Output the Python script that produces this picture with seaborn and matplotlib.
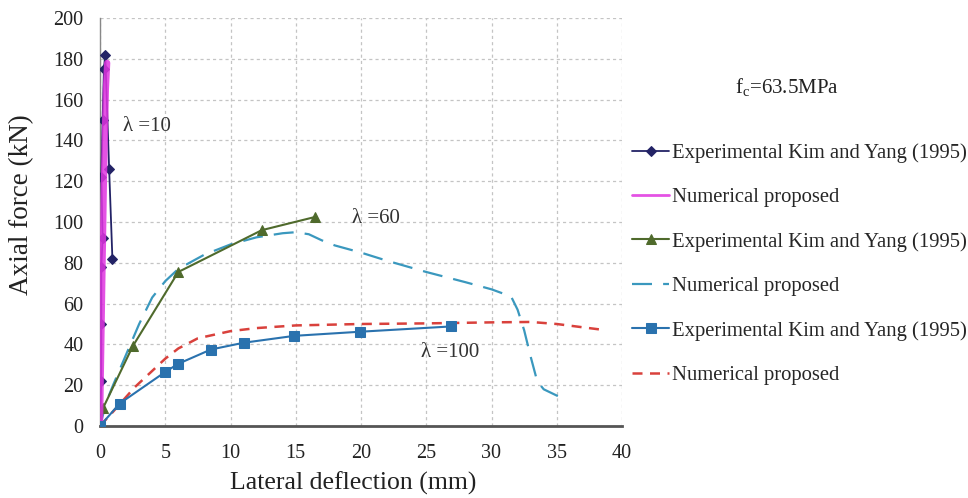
import matplotlib
matplotlib.use("Agg")
import matplotlib.pyplot as plt
import seaborn as sns
import pandas as pd

# ---- data ----
x10_exp = [0, 0.1, 0.1, 0.1, 0.2, 0.1, 0.2, 0.3, 0.4, 0.7, 0.95]
y10_exp = [0, 22, 50, 78, 92, 122, 150, 175, 182, 126, 82]

x10_num = [0, 0.15, 0.3, 0.45, 0.55]
y10_num = [0, 60, 120, 165, 178]

x60_exp = [0, 0.25, 2.5, 6.0, 12.4, 16.5]
y60_exp = [0, 9, 39, 75.5, 96, 102.5]

x60_num = [0, 0.5, 1, 2, 3, 4, 5, 6, 8, 10, 12, 14, 15, 16, 17, 18, 20, 22, 25,
           28, 30, 31.5, 32, 32.5, 33, 33.5, 34, 35.3]
y60_num = [0, 12, 20, 35, 50, 63, 71, 77, 84, 89, 92.5, 94.5, 95, 94, 91, 88.5,
           85, 81, 75.5, 70.5, 67, 63.5, 57, 47, 34, 22, 18, 14]

x100_exp = [0, 1.5, 5.0, 6.0, 8.5, 11.0, 14.9, 19.9, 26.9]
y100_exp = [0, 11, 26.5, 30.5, 37.5, 40.8, 44.2, 46.2, 48.8]

x100_num = [0, 1, 2.66, 4, 5, 6, 7.5, 10, 12, 15, 20, 25, 30, 33, 35, 38.7]
y100_num = [0, 7, 19, 27, 33, 38, 43, 46.5, 48, 49.3, 50, 50.3, 50.8, 51, 50, 47]

labels = ["Experimental Kim and Yang (1995)", "Numerical proposed"] * 3
xticks = [0, 5, 10, 15, 20, 25, 30, 35, 40]
yticks = [0, 20, 40, 60, 80, 100, 120, 140, 160, 180, 200]
annots = [("λ =10", 1.75, 147), ("λ =60", 19.3, 101.5), ("λ =100", 24.6, 36)]
note = "f$_\\mathregular{c}$=63.5MPa"

sns.set_style("white")
plt.rcParams["font.family"] = ["Liberation Serif", "DejaVu Serif"]
plt.rcParams["mathtext.fontset"] = "custom"
plt.rcParams["mathtext.rm"] = "Liberation Serif"

fig = plt.figure(figsize=(9.68, 4.98), dpi=100)
ax = fig.add_axes([100 / 968, 1 - 426 / 498, 522 / 968, 408 / 498])

def df(x, y):
    return pd.DataFrame({"x": x, "y": y})

# lambda = 10
sns.lineplot(data=df(x10_exp, y10_exp), x="x", y="y", sort=False, estimator=None,
             color="#232366", lw=1.3, marker="D", markersize=5,
             markeredgecolor="#232366", label=labels[0], ax=ax, zorder=3)
sns.lineplot(data=df(x10_num, y10_num), x="x", y="y", sort=False, estimator=None,
             color="#E034E0", lw=4.5, alpha=0.85, label=labels[1], ax=ax, zorder=4)
# lambda = 60
sns.lineplot(data=df(x60_exp, y60_exp), x="x", y="y", sort=False, estimator=None,
             color="#4F6A2C", lw=1.5, marker="^", markersize=7,
             markeredgecolor="#4F6A2C", label=labels[2], ax=ax, zorder=3)
sns.lineplot(data=df(x60_num, y60_num), x="x", y="y", sort=False, estimator=None,
             color="#3A98BE", lw=1.6, dashes=False, label=labels[3], ax=ax, zorder=2)
ax.lines[-1].set_dashes((9, 5))
# lambda = 100
sns.lineplot(data=df(x100_num, y100_num), x="x", y="y", sort=False, estimator=None,
             color="#D9413C", lw=1.8, label=labels[5], ax=ax, zorder=2)
ax.lines[-1].set_dashes((4, 3))
sns.lineplot(data=df(x100_exp, y100_exp), x="x", y="y", sort=False, estimator=None,
             color="#2A72AE", lw=1.5, marker="s", markersize=7,
             markeredgecolor="#2A72AE", label=labels[4], ax=ax, zorder=5)

ax.set_xlim(0, 40)
ax.set_ylim(0, 200)
ax.set_xticks(xticks)
ax.set_yticks(yticks)
ax.tick_params(axis="both", length=0, labelsize=14.5, colors="#222222")
ax.tick_params(axis="y", pad=12)
ax.tick_params(axis="x", pad=13)
ax.grid(True, linestyle=(0, (2.5, 2.5)), color="#C4C4C4", lw=0.9)
ax.set_axisbelow(True)
for s in ["top", "right"]:
    ax.spines[s].set_visible(False)
ax.spines["left"].set_color("#888888")
ax.spines["left"].set_linewidth(1.0)
ax.spines["bottom"].set_color("#555555")
ax.spines["bottom"].set_linewidth(2.0)

ax.set_xlabel("Lateral deflection (mm)", fontsize=18.5, color="#222222")
ax.set_ylabel("Axial force (kN)", fontsize=19.5, color="#222222")
ax.xaxis.set_label_coords((353.5 - 100) / 522, (426 - 483) / 408)
ax.xaxis.label.set_va("center")
ax.yaxis.set_label_coords((21.5 - 100) / 522, (426 - 205) / 408)
ax.yaxis.label.set_va("center")

for t, xx, yy in annots:
    ax.text(xx, yy, t, fontsize=15, color="#333333", va="center", ha="left")

fig.text(787 / 968, 1 - 88 / 498, note, fontsize=15, ha="center", va="center",
         color="#222222")

h, l = ax.get_legend_handles_labels()
order = [0, 1, 2, 3, 5, 4]
leg = ax.legend([h[i] for i in order], [l[i] for i in order],
                loc="center left", bbox_to_anchor=(632 / 968, 1 - 264 / 498),
                bbox_transform=fig.transFigure, frameon=False, fontsize=14.9,
                handlelength=1.8, handletextpad=0.15, labelspacing=1.2,
                borderpad=0, borderaxespad=0)
leg.get_lines()[1].set_linewidth(2.0)

fig.savefig("out.png", dpi=100)
